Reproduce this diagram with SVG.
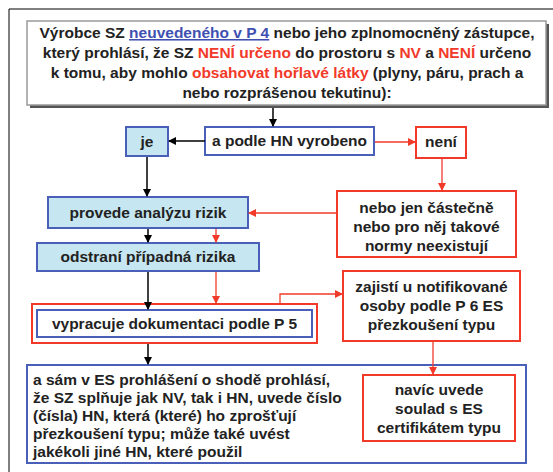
<svg xmlns="http://www.w3.org/2000/svg" width="553" height="472" viewBox="0 0 553 472">
<style>
text{font-family:"Liberation Sans",Arial,sans-serif;font-weight:bold;font-size:15.5px;fill:#222}
.c{text-anchor:middle}
.r{fill:#f23a2a}
.u{fill:#4050b0;text-decoration:underline}
.bl{fill:#fff;stroke:#4a5fb8;stroke-width:2}
.bf{fill:#c6e7f1;stroke:#4a5fb8;stroke-width:2}
.rd{fill:#fff;stroke:#f23a2a;stroke-width:2}
.k{stroke:#000;stroke-width:1.5;fill:none}
.kr{stroke:#f23a2a;stroke-width:1.3;fill:none}
</style>
<defs>
<marker id="ak" markerWidth="8" markerHeight="8" refX="7" refY="4" orient="auto" markerUnits="userSpaceOnUse"><path d="M0,0 L8,4 L0,8 z" fill="#000"/></marker>
<marker id="ar" markerWidth="8" markerHeight="8" refX="7" refY="4" orient="auto" markerUnits="userSpaceOnUse"><path d="M0,0 L8,4 L0,8 z" fill="#f23a2a"/></marker>
</defs>
<rect width="553" height="472" fill="#fff"/>
<path d="M9,472 V9 H553" fill="none" stroke="#000" stroke-width="1"/>

<g id="top">
<rect x="30" y="24" width="519" height="84" fill="#555"/>
<rect x="27" y="21" width="519" height="84" fill="#fff" stroke="#999" stroke-width="1.5"/>
<text class="c" x="287" y="38">Výrobce SZ <tspan class="u">neuvedeného v P 4</tspan> nebo jeho zplnomocněný zástupce,</text>
<text class="c" x="287" y="58">který prohlásí, že SZ <tspan class="r">NENÍ určeno</tspan> do prostoru s <tspan class="r">NV</tspan> a <tspan class="r">NENÍ</tspan> určeno</text>
<text class="c" x="287" y="78">k tomu, aby mohlo <tspan class="r">obsahovat hořlavé látky</tspan> (plyny, páru, prach a</text>
<text class="c" x="287" y="98">nebo rozprášenou tekutinu):</text>
</g>

<g id="je"><rect class="bf" x="126" y="127" width="42" height="29"/><text class="c" x="147" y="147">je</text></g>
<g id="podle"><rect class="bl" x="205" y="127" width="169" height="28"/><text class="c" x="289.5" y="146">a podle HN vyrobeno</text></g>
<g id="neni"><rect class="rd" x="416" y="127" width="50" height="31"/><text class="c" x="441" y="147">není</text></g>
<g id="nebo"><rect class="rd" x="337" y="191" width="179" height="66"/>
<text class="c" x="426.5" y="213">nebo jen částečně</text>
<text class="c" x="426.5" y="232">nebo pro něj takové</text>
<text class="c" x="426.5" y="251">normy neexistují</text></g>
<g id="provede"><rect class="bf" x="48" y="197" width="200" height="31"/><text class="c" x="148" y="218">provede analýzu rizik</text></g>
<g id="odstrani"><rect class="bf" x="37" y="243" width="222" height="28"/><text class="c" x="148" y="262">odstraní případná rizika</text></g>
<g id="vypracuje"><rect class="rd" x="32" y="304" width="285" height="39"/><rect class="bl" x="37" y="310" width="275" height="27"/><text class="c" x="174.5" y="329">vypracuje dokumentaci podle P 5</text></g>
<g id="zajisti"><rect class="rd" x="343" y="271" width="177" height="70"/>
<text class="c" x="431.5" y="292">zajistí u notifikované</text>
<text class="c" x="431.5" y="311">osoby podle P 6 ES</text>
<text class="c" x="431.5" y="330">přezkoušení typu</text></g>
<g id="sam"><rect class="bl" x="27" y="365" width="499" height="98"/>
<text x="33" y="385">a sám v ES prohlášení o shodě prohlásí,</text>
<text x="33" y="403">že SZ splňuje jak NV, tak i HN, uvede číslo</text>
<text x="33" y="421">(čísla) HN, která (které) ho zprošťují</text>
<text x="33" y="439">přezkoušení typu; může také uvést</text>
<text x="33" y="457">jakékoli jiné HN, které použil</text></g>
<g id="navic"><rect class="rd" x="363" y="375" width="152" height="66"/>
<text class="c" x="439" y="395">navíc uvede</text>
<text class="c" x="439" y="414">soulad s ES</text>
<text class="c" x="439" y="433">certifikátem typu</text></g>

<g id="connectors">
<path class="k" d="M273,108 V126" marker-end="url(#ak)"/>
<path class="k" d="M205,141 H169" marker-end="url(#ak)"/>
<path class="kr" d="M375,142 H415" marker-end="url(#ar)"/>
<path class="kr" d="M442,159 V190" marker-end="url(#ar)"/>
<path class="kr" d="M336,213 H249" marker-end="url(#ar)"/>
<path class="k" d="M147,157 V196" marker-end="url(#ak)"/>
<path class="k" d="M148,229 V242" marker-end="url(#ak)"/>
<path class="kr" d="M216,229 V242" marker-end="url(#ar)"/>
<path class="k" d="M148,272 V309" marker-end="url(#ak)"/>
<path class="kr" d="M216,272 V303" marker-end="url(#ar)"/>
<path class="kr" d="M280,304 V294 H342" marker-end="url(#ar)"/>
<path class="kr" d="M433,342 V374" marker-end="url(#ar)"/>
<path class="k" d="M148,344 V364" marker-end="url(#ak)"/>
</g>
</svg>
